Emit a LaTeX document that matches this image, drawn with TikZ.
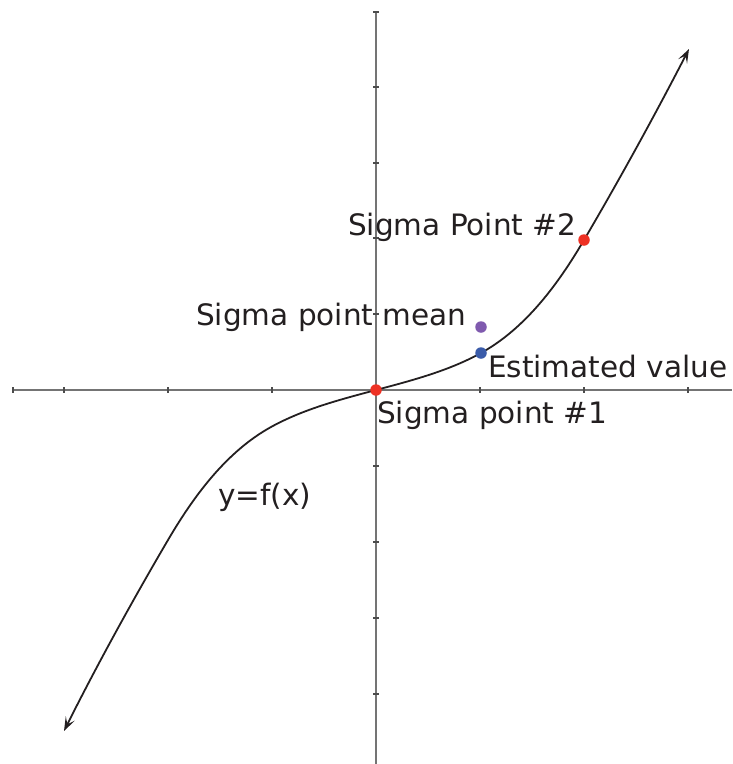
\documentclass[tikz,border=0pt]{standalone}
\usepackage{fontspec}
\setmainfont{DejaVu Sans}
\usetikzlibrary{arrows.meta}
\definecolor{axisgray}{HTML}{747474}
\definecolor{sred}{HTML}{EE3124}
\definecolor{sblue}{HTML}{3A5BA9}
\definecolor{spurple}{HTML}{7F5AAE}
\definecolor{txt}{HTML}{231F20}
\begin{document}
\begin{tikzpicture}[x=1pt,y=-1pt,
  axis/.style={draw=axisgray,line width=1.3pt},
  tickmark/.style={draw=black!70,line width=1.1pt},
  curve/.style={draw=txt,line width=1.8pt,>={Stealth[length=14pt,width=10pt,inset=6.5pt]}},
  dot/.style={circle,inner sep=0pt,minimum size=11.5pt,fill=#1},
  lbl/.style={font=\fontsize{29.5}{34}\selectfont,text=txt,inner sep=0pt,anchor=base west}]
\useasboundingbox (0,0) rectangle (732,764);
% axes
\coordinate (xl) at (13,390);
\coordinate (xr) at (732,390);
\coordinate (yt) at (376,12);
\coordinate (yb) at (376,764);
\draw[axis] (xl) -- (xr);
\draw[axis] (yt) -- (yb);
\foreach \x in {13,64,168,272,480,584,688}
  \draw[tickmark] (\x,387) -- (\x,393);
\foreach \y in {12,87,163,238,314,466,542,618,694}
  \draw[tickmark] (373,\y) -- (379,\y);
% curve points
\coordinate (ps1) at (376,390);
\coordinate (pest) at (481,353);
\coordinate (ps2) at (584,240);
\coordinate (pmean) at (481,327);
\coordinate (ctop) at (689,49);
\coordinate (m1) at (271,427);
\coordinate (m2) at (168,540);
\coordinate (cbot) at (64,731);
\draw[curve,<->]
  (cbot) .. controls (96,667) and (131.6,602) .. (m2)
         .. controls (193.8,496) and (226.4,451.7) .. (m1)
         .. controls (303.4,409.1) and (340.3,399.5) .. (ps1)
         .. controls (411.7,380.5) and (448.6,370.9) .. (pest)
         .. controls (525.6,328.3) and (558.2,284) .. (ps2)
         .. controls (620.4,178) and (656,113) .. (ctop);
% dots
\node[dot=sred] (s1) at (ps1) {};
\node[dot=sred] (s2) at (ps2) {};
\node[dot=sblue] (est) at (pest) {};
\node[dot=spurple] (mean) at (pmean) {};
% labels
\node[lbl] (l2) at (348,235) {Sigma Point \#2};
\node[lbl] (lm) at (196,325) {Sigma point mean};
\node[lbl] (le) at (488,377) {Estimated value};
\node[lbl] (l1) at (377,423) {Sigma point \#1};
\node[lbl] (lf) at (218,505) {y=f(x)};
\end{tikzpicture}
\end{document}
